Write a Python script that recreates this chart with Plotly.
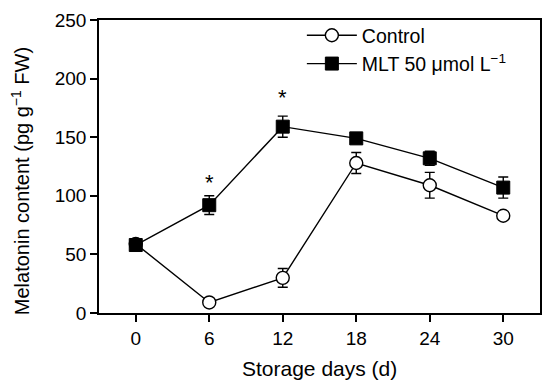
import plotly.graph_objects as go

days = [0, 6, 12, 18, 24, 30]
control = [59, 9, 30, 128, 109, 83]
control_err = [4, 2, 8, 9, 11, 2]
mlt = [58, 92, 159, 149, 132, 107]
mlt_err = [4, 8, 9, 3, 6, 9]
star_days = [6, 12]
star_y = [111, 184]

FONT = "Liberation Sans, Arial, sans-serif"

fig = go.Figure()
fig.add_trace(go.Scatter(
    x=days, y=control, mode="lines+markers", name="Control",
    line=dict(color="black", width=1.4),
    marker=dict(symbol="circle", size=13, color="white", line=dict(color="black", width=1.4)),
    error_y=dict(type="data", array=control_err, visible=True, color="black", thickness=1.4, width=5),
))
fig.add_trace(go.Scatter(
    x=days, y=mlt, mode="lines+markers", name="MLT 50 μmol L<sup>−1</sup>",
    line=dict(color="black", width=1.4),
    marker=dict(symbol="square", size=13, color="black", line=dict(color="black", width=1)),
    error_y=dict(type="data", array=mlt_err, visible=True, color="black", thickness=1.4, width=5),
))

for d, y in zip(star_days, star_y):
    fig.add_annotation(x=d, y=y, text="*", showarrow=False,
                       font=dict(family=FONT, size=22, color="black"))

fig.add_annotation(xref="paper", yref="paper", x=0.5, y=-0.188, yanchor="middle",
                   text="Storage days (d)", showarrow=False,
                   font=dict(family=FONT, size=21, color="black"))
fig.add_annotation(xref="paper", yref="paper", x=-0.179, y=0.45, xanchor="center", yanchor="middle",
                   text="Melatonin content (pg g<sup>−1</sup> FW)", textangle=-90, showarrow=False,
                   font=dict(family=FONT, size=20, color="black"))

fig.update_layout(
    width=542, height=374,
    margin=dict(l=91, r=9.5, t=10.5, b=69.3),
    paper_bgcolor="white", plot_bgcolor="white",
    font=dict(family=FONT, size=19, color="black"),
    showlegend=True,
    legend=dict(x=0.46, y=1.01, xanchor="left", yanchor="top",
                bgcolor="rgba(0,0,0,0)", font=dict(size=19.5),
                itemwidth=50, tracegroupgap=0),
    xaxis=dict(
        range=[-3, 33], tickvals=days, ticktext=[str(d) for d in days],
        showline=True, linecolor="black", linewidth=1.5, mirror=True,
        ticks="outside", ticklen=7, tickwidth=1.5, tickcolor="black",
        showgrid=False, zeroline=False, automargin=False,
    ),
    yaxis=dict(
        range=[0, 250], tickvals=[0, 50, 100, 150, 200, 250],
        showline=True, linecolor="black", linewidth=1.5, mirror=True,
        ticks="outside", ticklen=7, tickwidth=1.5, tickcolor="black",
        showgrid=False, zeroline=False, automargin=False,
    ),
)

fig.write_html("out.html")
